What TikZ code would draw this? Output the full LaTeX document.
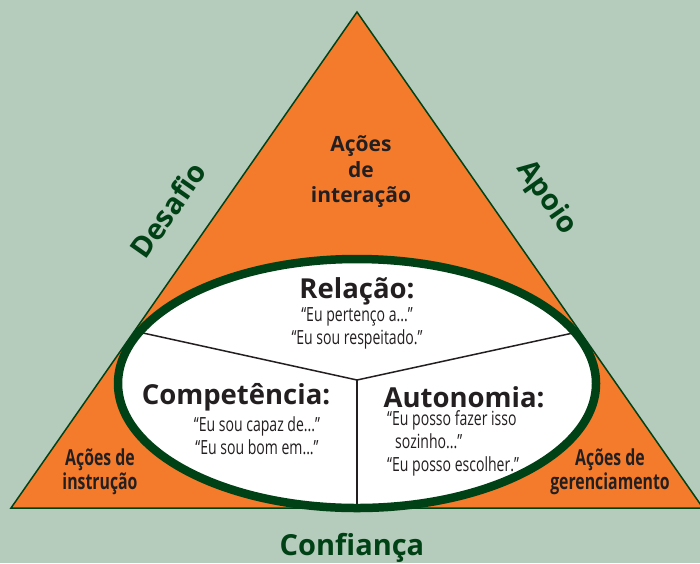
\documentclass[tikz,border=0pt]{standalone}
\usepackage{fontspec}
\setmainfont[Ligatures=CommonOff]{Open Sans}
\newfontfamily\condf[FakeStretch=0.72,Ligatures=CommonOff]{Open Sans}
\definecolor{bg}{HTML}{B5CBBB}
\definecolor{org}{HTML}{F47B2C}
\definecolor{dgreen}{HTML}{004216}
\definecolor{txt}{HTML}{231F20}
\tikzset{
  side/.style={text=dgreen,font=\bfseries\fontsize{29}{32}\selectfont},
  title/.style={text=txt,font=\bfseries\fontsize{27.5}{30}\selectfont,inner sep=0},
  quote/.style={text=txt,font=\condf\fontsize{19.5}{23}\selectfont,inner sep=0},
  act/.style={text=txt,font=\bfseries\fontsize{21}{25.5}\selectfont,align=center,inner sep=0},
  actc/.style={text=txt,font=\condf\bfseries\fontsize{22}{24}\selectfont,align=center,inner sep=0},
  divider/.style={draw=txt,line width=1.5pt}
}
\begin{document}
\begin{tikzpicture}[x=1pt,y=-1pt]
\useasboundingbox (0,0) rectangle (700,563);
\fill[bg] (0,0) rectangle (700,563);
\begin{scope}
\clip (0,0) rectangle (700,563);
\coordinate (apex) at (357,12);
\coordinate (bl) at (11,508);
\coordinate (br) at (703,508);
\filldraw[fill=org,draw=dgreen,line width=1.5pt] (apex) -- (bl) -- (br) -- cycle;
\fill[white] (357,383.5) ellipse [x radius=239, y radius=124.5];
\coordinate (ctr) at (357,380);
\coordinate (dl) at (143,333);
\coordinate (dr) at (573,333);
\coordinate (db) at (357,506);
\draw[divider] (dl) -- (ctr) -- (dr);
\draw[divider] (ctr) -- (db);
\draw[dgreen,line width=8.5pt] (357,383.5) ellipse [x radius=239, y radius=124.5];
\end{scope}
\node[act] (inter) at (361,172) {Ações\\de\\interação};
\node[actc] (instr) at (100,472) {Ações de\\instrução};
\node[actc] (gere) at (610,472) {Ações de\\gerenciamento};
\node[title] (rel) at (357,291) {Relação:};
\node[quote,align=center] (relq) at (357,328) {“Eu pertenço a...”\\“Eu sou respeitado.”};
\node[title] (comp) at (236,397) {Competência:};
\node[quote,align=center] (compq) at (257,436) {“Eu sou capaz de...”\\“Eu sou bom em...”};
\node[title] (aut) at (464,397) {Autonomia:};
\node[quote,align=left,anchor=north west] (autq) at (387,410) {“Eu posso fazer isso\\\hspace{8pt}sozinho...”\\“Eu posso escolher.”};
\node[side,rotate=55] (des) at (168,210) {Desafio};
\node[side,rotate=-55] (apo) at (546,198) {Apoio};
\node[side] (conf) at (352,548) {Confiança};
\end{tikzpicture}
\end{document}
